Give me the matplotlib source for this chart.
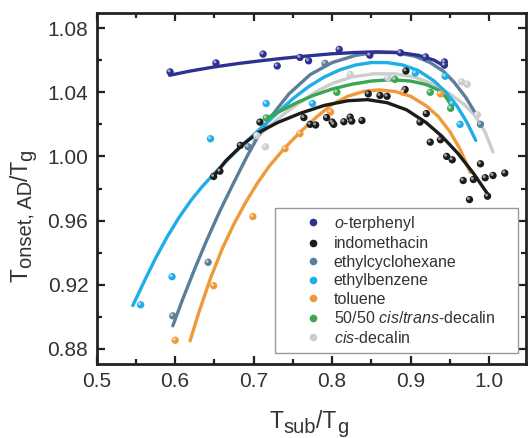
import numpy as np
import matplotlib
matplotlib.use("Agg")
import matplotlib.pyplot as plt
from matplotlib.lines import Line2D
from matplotlib.patches import Rectangle
from matplotlib.ticker import MultipleLocator, FormatStrFormatter
from matplotlib.transforms import offset_copy

plt.rcParams['font.family'] = ['Liberation Sans', 'DejaVu Sans']
plt.rcParams['mathtext.fontset'] = 'custom'
plt.rcParams['mathtext.rm'] = 'Liberation Sans'
plt.rcParams['mathtext.it'] = 'Liberation Sans:italic'

# series names as in legend
labels = [r'$\mathit{o}$-terphenyl', 'indomethacin', 'ethylcyclohexane',
          'ethylbenzene', 'toluene', r'50/50 $\mathit{cis/trans}$-decalin',
          r'$\mathit{cis}$-decalin']
colors = ['#2e3192', '#1c1c1c', '#5b7f99', '#1eaee8', '#ef9a3a', '#3aa552', '#cdcdcd']

# measured points
otp_x = [0.5935, 0.652, 0.712, 0.730, 0.759, 0.770, 0.809, 0.848, 0.887, 0.919, 0.943, 0.943]
otp_y = [1.0527, 1.0583, 1.0638, 1.0564, 1.0617, 1.0596, 1.0667, 1.0631, 1.0646, 1.062, 1.0589, 1.0569]

ind_x = [0.649, 0.657, 0.683, 0.708, 0.764, 0.772, 0.779, 0.793, 0.800, 0.802, 0.815, 0.823,
         0.825, 0.838, 0.846, 0.861, 0.870, 0.893, 0.894, 0.912, 0.920, 0.925, 0.938, 0.946,
         0.953, 0.967, 0.975, 0.980, 0.989, 0.995, 0.998, 1.005, 1.020]
ind_y = [0.9875, 0.9908, 1.0069, 1.0214, 1.0242, 1.020, 1.0196, 1.0242, 1.0214, 1.020, 1.0216, 1.0245,
         1.022, 1.0224, 1.039, 1.038, 1.0375, 1.0417, 1.0533, 1.0214, 1.0267, 1.0089, 1.0104, 1.0000,
         0.9979, 0.985, 0.9731, 0.9856, 0.9954, 0.9867, 0.9752, 0.9881, 0.9896]

ech_x = [0.597, 0.642, 0.693, 0.791, 0.989]
ech_y = [0.9006, 0.934, 1.006, 1.058, 1.020]

ebz_x = [0.556, 0.596, 0.645, 0.716, 0.775, 0.906, 0.944, 0.953, 0.963]
ebz_y = [0.9075, 0.925, 1.011, 1.033, 1.033, 1.052, 1.050, 1.033, 1.020]

tol_x = [0.600, 0.649, 0.699, 0.740, 0.759, 0.798, 0.891, 0.938]
tol_y = [0.8854, 0.9194, 0.9625, 1.0048, 1.0142, 1.0277, 1.040, 1.039]

mix_x = [0.716, 0.806, 0.880, 0.925, 0.951]
mix_y = [1.024, 1.040, 1.048, 1.040, 1.030]

cis_x = [0.704, 0.715, 0.823, 0.871, 0.965, 0.972, 0.985]
cis_y = [1.013, 1.006, 1.051, 1.049, 1.0465, 1.045, 1.026]

# fitted curves
otp_fx = [0.593, 0.62, 0.65, 0.68, 0.712, 0.74, 0.77, 0.80, 0.83, 0.857, 0.887, 0.91, 0.93, 0.943]
otp_fy = [1.0506, 1.0533, 1.0558, 1.0579, 1.0598, 1.0613, 1.0627, 1.0640, 1.0648, 1.0652,
          1.0647, 1.0630, 1.0600, 1.0562]

ind_fx = [0.648, 0.665, 0.685, 0.705, 0.73, 0.76, 0.79, 0.82, 0.845, 0.87, 0.895, 0.92,
          0.94, 0.96, 0.98, 0.998]
ind_fy = [0.987, 0.9975, 1.007, 1.0145, 1.021, 1.027, 1.0318, 1.0347, 1.0354, 1.0335, 1.029,
          1.021, 1.0125, 1.002, 0.9895, 0.9767]

ech_fx = [0.597, 0.610, 0.625, 0.640, 0.657, 0.674, 0.691, 0.705, 0.72, 0.745, 0.772, 0.80,
          0.83, 0.855, 0.88, 0.905, 0.925, 0.942, 0.955, 0.970, 0.985]
ech_fy = [0.8944, 0.9115, 0.930, 0.9475, 0.966, 0.983, 0.9995, 1.012, 1.0235, 1.039, 1.051,
          1.0585, 1.063, 1.0648, 1.0648, 1.0625, 1.0585, 1.053, 1.0465, 1.037, 1.025]

ebz_fx = [0.546, 0.560, 0.575, 0.590, 0.605, 0.620, 0.635, 0.650, 0.670, 0.690, 0.710, 0.730,
          0.750, 0.770, 0.790, 0.810, 0.830, 0.850, 0.870, 0.890, 0.910, 0.930, 0.945, 0.959,
          0.972, 0.983]
ebz_fy = [0.907, 0.9215, 0.9365, 0.950, 0.962, 0.9725, 0.9815, 0.9895, 0.9995, 1.009, 1.018,
          1.027, 1.036, 1.0435, 1.0495, 1.054, 1.057, 1.0585, 1.0585, 1.057, 1.0535, 1.047,
          1.040, 1.0315, 1.021, 1.010]

tol_fx = [0.619, 0.630, 0.645, 0.660, 0.675, 0.690, 0.705, 0.720, 0.740, 0.760, 0.780, 0.800,
          0.820, 0.840, 0.860, 0.880, 0.900, 0.920, 0.935, 0.950, 0.963, 0.976]
tol_fy = [0.885, 0.9025, 0.924, 0.9425, 0.958, 0.9715, 0.9835, 0.994, 1.0055, 1.0155, 1.0245,
          1.0325, 1.0375, 1.0405, 1.0415, 1.0405, 1.0375, 1.0315, 1.025, 1.0155, 1.0045, 0.990]

mix_fx = [0.717, 0.735, 0.755, 0.776, 0.80, 0.825, 0.85, 0.875, 0.90, 0.92, 0.935, 0.945, 0.953]
mix_fy = [1.024, 1.0285, 1.0335, 1.038, 1.042, 1.045, 1.047, 1.0478, 1.047, 1.0448, 1.0415,
          1.037, 1.031]

cis_fx = [0.700, 0.72, 0.74, 0.76, 0.78, 0.80, 0.825, 0.853, 0.88, 0.905, 0.929, 0.950, 0.968,
          0.982, 0.995, 1.005]
cis_fy = [1.010, 1.019, 1.027, 1.034, 1.0405, 1.0455, 1.0495, 1.0515, 1.0515, 1.0495, 1.045,
          1.039, 1.0325, 1.0255, 1.015, 1.0027]

points = [(otp_x, otp_y), (ind_x, ind_y), (ech_x, ech_y), (ebz_x, ebz_y),
          (tol_x, tol_y), (mix_x, mix_y), (cis_x, cis_y)]
curves = [(otp_fx, otp_fy), (ind_fx, ind_fy), (ech_fx, ech_fy), (ebz_fx, ebz_fy),
          (tol_fx, tol_fy), (mix_fx, mix_fy), (cis_fx, cis_fy)]


def lighten(c, f):
    rgb = np.array(matplotlib.colors.to_rgb(c))
    return tuple(rgb + (1 - rgb) * f)


def sub_label(ax, x, y, parts, rotation=0):
    # text with large subscripts: parts = [(text, fontsize, shift_pt), ...]
    fig = ax.figure
    txt, fs, sh = parts[0]
    if rotation:
        prev = fig.text(x, y, txt, fontsize=fs, rotation=90, ha='right', va='bottom', color='#333333')
    else:
        prev = fig.text(x, y, txt, fontsize=fs, ha='left', va='baseline', color='#333333')
    last = sh
    for txt, fs, sh in parts[1:]:
        d = sh - last
        if rotation:
            prev = ax.annotate(txt, xy=(1, 1), xycoords=prev, xytext=(-d, 0),
                               textcoords='offset points', rotation=90, ha='right',
                               va='bottom', fontsize=fs, color='#333333')
        else:
            prev = ax.annotate(txt, xy=(1, 0), xycoords=prev, xytext=(0, d),
                               textcoords='offset points', ha='left', va='bottom',
                               fontsize=fs, color='#333333')
        last = sh


fig = plt.figure(figsize=(5.28, 4.38), dpi=100)
ax = fig.add_axes([0.1831, 0.169, 0.8131, 0.802])

order = [6, 2, 3, 5, 4, 1, 0]
for i in order:
    fx, fy = curves[i]
    ax.plot(fx, fy, color=colors[i], lw=2.4, solid_capstyle='round',
            solid_joinstyle='round', zorder=2)

hl = offset_copy(ax.transData, fig=fig, x=-0.8, y=0.8, units='points')
for i in order:
    px, py = points[i]
    ax.scatter(px, py, s=28, color=colors[i], edgecolors='none', zorder=3)
    ax.scatter(px, py, s=5, color=lighten(colors[i], 0.55), edgecolors='none',
               zorder=4, transform=hl)

ax.set_xlim(0.5, 1.047)
ax.set_ylim(0.8706, 1.0896)
ax.xaxis.set_major_locator(MultipleLocator(0.1))
ax.xaxis.set_minor_locator(MultipleLocator(0.05))
ax.yaxis.set_major_locator(MultipleLocator(0.04))
ax.yaxis.set_minor_locator(MultipleLocator(0.02))
ax.xaxis.set_major_formatter(FormatStrFormatter('%.1f'))
ax.yaxis.set_major_formatter(FormatStrFormatter('%.2f'))
ax.tick_params(which='both', direction='in', top=True, right=True, colors='#222222',
               labelcolor='#333333', labelsize=15, width=1.6)
ax.tick_params(which='major', length=5.5, pad=6)
ax.tick_params(which='minor', length=3.5)
for s in ax.spines.values():
    s.set_linewidth(2.0)
    s.set_color('#222222')

# axis titles
sub_label(ax, 270 / 528, 1 - 428 / 438,
          [('T', 16.5, 0), ('sub', 14.5, -3), ('/T', 16.5, 0), ('g', 14.5, -3)])
sub_label(ax, 33 / 528, 1 - 282 / 438,
          [('T', 16.5, 0), ('onset, AD', 14.5, -1.5), ('/T', 16.5, 0), ('g', 14.5, -2)],
          rotation=90)

# legend box
ax.add_patch(Rectangle((0.415, 0.032), 0.5665, 0.412, transform=ax.transAxes,
                       fill=True, facecolor='white', edgecolor='#999999', lw=1.0, zorder=5))
handles = [Line2D([], [], ls='none', marker='o', ms=5.5, color=c, mec='none') for c in colors]
leg = ax.legend(handles, labels, loc='upper left', bbox_to_anchor=(0.4852, 0.428),
                frameon=False, fontsize=11.5, handlelength=1.0, handletextpad=0.8,
                borderpad=0, borderaxespad=0, labelspacing=0.22)
leg.set_zorder(6)
for t in leg.get_texts():
    t.set_color('#333333')

fig.savefig('out.png', dpi=100)
